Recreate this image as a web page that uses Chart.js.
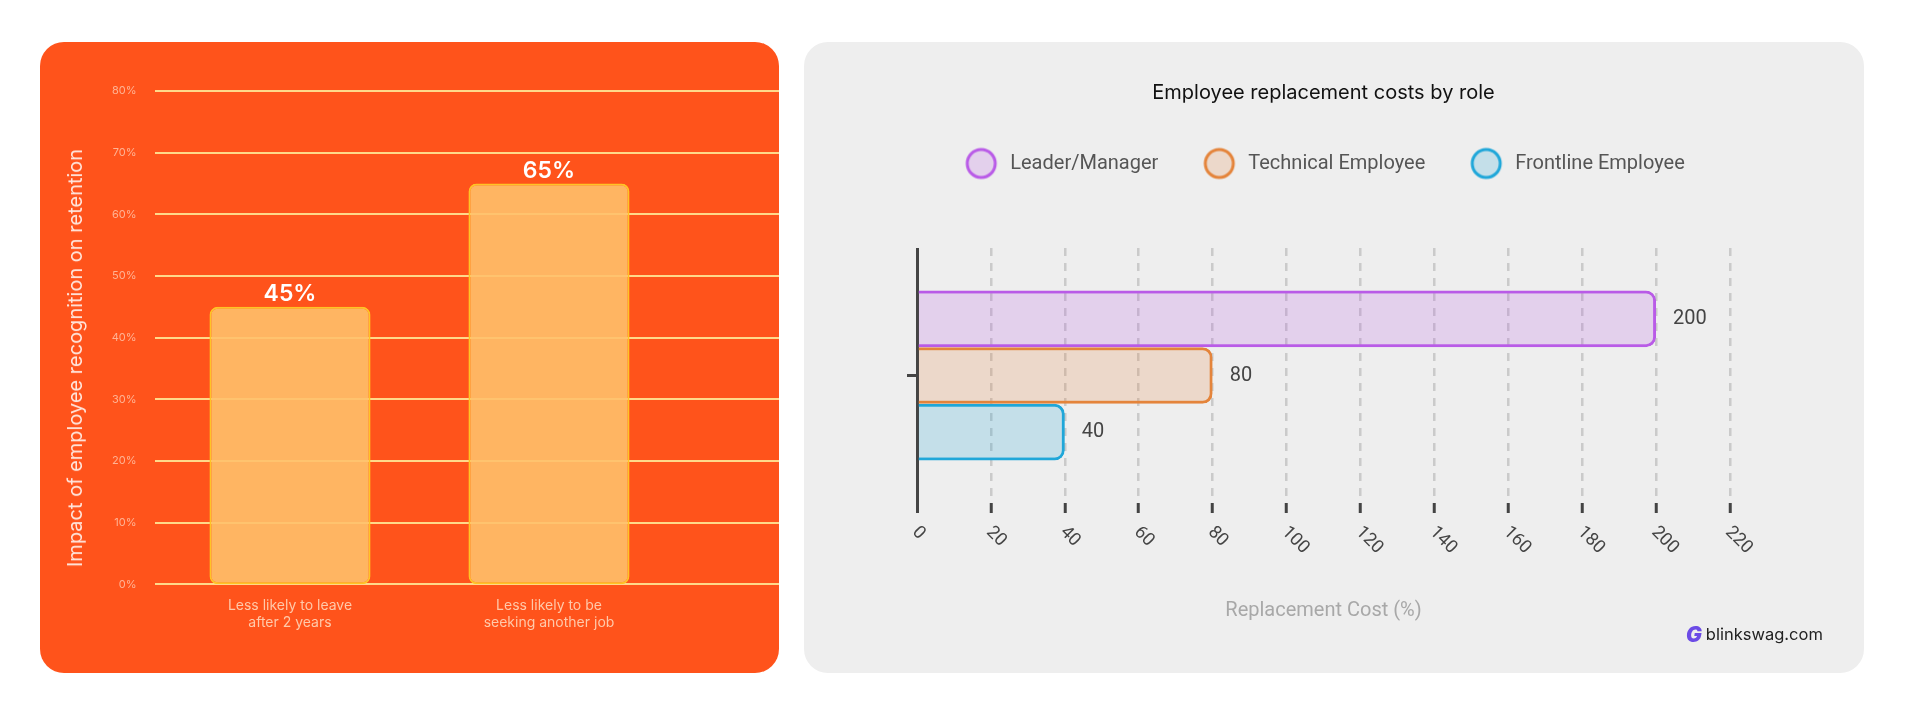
<!DOCTYPE html>
<html>
<head>
<meta charset="utf-8">
<script src="https://cdn.jsdelivr.net/npm/chart.js@4.4.1/dist/chart.umd.min.js"></script>
<style>
  html, body { margin: 0; padding: 0; background: #fff; }
  #page { position: relative; width: 1920px; height: 716px; overflow: hidden; background: #fff; }
  .panel { position: absolute; top: 42px; height: 631px; border-radius: 24px; overflow: hidden; }
  #leftPanel { left: 40px; width: 739px; background: #FF531B; }
  #rightPanel { left: 804px; width: 1060px; background: #EEEEEE; }
  canvas { position: absolute; left: 0; top: 0; }
  #yTitle {
    position: absolute; left: 35px; top: 316px;
    transform: translate(-50%, -50%) rotate(-90deg);
    white-space: nowrap; font-family: Inter, sans-serif; font-size: 20px;
    color: #FFE5DC;
  }
  #brand {
    position: absolute; left: 882px; top: 580px; height: 24px;
    display: flex; align-items: center; gap: 6px;
    font-family: Inter, sans-serif; font-size: 16.5px; color: #222;
  }
  #brand b { color: #6C4BE6; font-style: italic; font-weight: 900; font-size: 21px; letter-spacing: -2px; }
</style>
</head>
<body>
<div id="page">
  <div class="panel" id="leftPanel">
    <canvas id="retentionChart" width="739" height="631"></canvas>
    <div id="yTitle">Impact of employee recognition on retention</div>
  </div>
  <div class="panel" id="rightPanel">
    <canvas id="costChart" width="1060" height="631"></canvas>
    <div id="brand"><b>G</b><span>blinkswag.com</span></div>
  </div>
</div>
<script>
// Datos del gráfico de retención
const retentionLabels = [['Less likely to leave', 'after 2 years'], ['Less likely to be', 'seeking another job']];
const retentionValues = [45, 65];

// Datos del gráfico de costos de reemplazo
const roleNames = ['Leader/Manager', 'Technical Employee', 'Frontline Employee'];
const roleCosts = [200, 80, 40];
const costTicks = [0, 220, 20]; // min, max, paso

const roleBorders = ['#B95BE7', '#E4843B', '#20A7D9'];
const roleFills = ['rgba(185,91,231,0.2)', 'rgba(228,132,59,0.2)', 'rgba(32,167,217,0.2)'];

// Líneas horizontales que llegan hasta el borde del panel
const retentionGrid = {
  id: 'retentionGrid',
  beforeDatasetsDraw(chart) {
    const { ctx, chartArea, scales: { y } } = chart;
    ctx.save();
    ctx.strokeStyle = '#FFD98A';
    ctx.lineWidth = 2;
    y.ticks.forEach(t => {
      const py = Math.round(y.getPixelForValue(t.value));
      ctx.beginPath();
      ctx.moveTo(chartArea.left - 5.5, py);
      ctx.lineTo(chart.width, py);
      ctx.stroke();
    });
    ctx.restore();
  }
};

// Etiquetas de porcentaje encima de cada barra
const retentionLabelsPlugin = {
  id: 'retentionValues',
  afterDatasetsDraw(chart) {
    const ctx = chart.ctx;
    ctx.save();
    ctx.font = '600 23px Inter';
    ctx.fillStyle = '#FFFFFF';
    ctx.textAlign = 'center';
    ctx.textBaseline = 'alphabetic';
    chart.getDatasetMeta(0).data.forEach((bar, i) => {
      ctx.fillText(retentionValues[i] + '%', bar.x, bar.y - 6);
    });
    ctx.restore();
  }
};

new Chart(document.getElementById('retentionChart'), {
  type: 'bar',
  data: {
    labels: retentionLabels,
    datasets: [{
      data: retentionValues,
      backgroundColor: 'rgba(255,192,106,0.9)',
      borderColor: '#FFC326',
      borderWidth: 2,
      borderRadius: 8,
      borderSkipped: false,
      barPercentage: 0.622,
      categoryPercentage: 1
    }]
  },
  options: {
    responsive: false,
    animation: false,
    layout: { padding: { top: 49, right: 100.5, bottom: 28.5, left: 0 } },
    plugins: { legend: { display: false }, tooltip: { enabled: false } },
    scales: {
      x: {
        grid: { display: false, drawTicks: false },
        border: { display: false },
        ticks: { color: '#FFC9AA', font: { family: 'Inter', size: 14, lineHeight: 1.22 }, padding: 13 }
      },
      y: {
        min: 0,
        max: 80,
        grid: { display: false, drawTicks: false },
        border: { display: false },
        ticks: {
          stepSize: 10,
          callback: v => v + '%',
          color: '#FFB394',
          font: { family: 'Inter', size: 11 },
          padding: 24
        },
        afterFit: s => { s.width = 120.5; }
      }
    }
  },
  plugins: [retentionGrid, retentionLabelsPlugin]
});

// Marcadores circulares de la leyenda
const legendMarkers = roleNames.map((n, i) => {
  const c = document.createElement('canvas');
  c.width = 34;
  c.height = 34;
  const g = c.getContext('2d');
  g.beginPath();
  g.arc(17, 17, 14, 0, Math.PI * 2);
  g.fillStyle = roleFills[i];
  g.fill();
  g.lineWidth = 3;
  g.strokeStyle = roleBorders[i];
  g.stroke();
  return c;
});

// Altura fija de la leyenda para dejar espacio debajo
const legendGap = {
  id: 'legendGap',
  beforeInit(chart) {
    const fit = chart.legend.fit;
    chart.legend.fit = function () {
      fit.call(this);
      this.height = 136.5;
    };
  }
};

// Valor al final de cada barra
const costValues = {
  id: 'costValues',
  afterDatasetsDraw(chart) {
    const ctx = chart.ctx;
    ctx.save();
    ctx.font = '20px Roboto';
    ctx.fillStyle = '#444';
    ctx.textAlign = 'left';
    ctx.textBaseline = 'middle';
    chart.data.datasets.forEach((ds, i) => {
      chart.getDatasetMeta(i).data.forEach((bar, j) => {
        ctx.fillText(ds.data[j], bar.x + 17, bar.y);
      });
    });
    ctx.restore();
  }
};

// Etiquetas del eje x giradas hacia abajo
const slantedTicks = {
  id: 'slantedTicks',
  afterDraw(chart) {
    const { ctx, chartArea, scales: { x } } = chart;
    ctx.save();
    ctx.font = '18px Roboto';
    ctx.fillStyle = '#444';
    ctx.textAlign = 'left';
    ctx.textBaseline = 'middle';
    x.ticks.forEach(t => {
      const px = x.getPixelForValue(t.value);
      ctx.save();
      ctx.translate(px - 2, chartArea.bottom + 26.5);
      ctx.rotate(Math.PI / 4);
      ctx.fillText(t.label, 0, 0);
      ctx.restore();
    });
    ctx.restore();
  }
};

const isZero = c => c.tick && c.tick.value === 0;

new Chart(document.getElementById('costChart'), {
  type: 'bar',
  data: {
    labels: [''],
    datasets: roleNames.map((name, i) => ({
      label: name,
      data: [roleCosts[i]],
      backgroundColor: roleFills[i],
      borderColor: roleBorders[i],
      borderWidth: 3,
      borderRadius: 10,
      borderSkipped: 'start',
      categoryPercentage: 0.667,
      barPercentage: 1
    }))
  },
  options: {
    indexAxis: 'y',
    responsive: false,
    animation: false,
    layout: { padding: { left: 113, right: 134, top: 0, bottom: 0 } },
    plugins: {
      title: {
        display: true,
        text: 'Employee replacement costs by role',
        color: '#111',
        font: { family: 'Inter', size: 20, weight: 'normal', lineHeight: 1.2 },
        padding: { top: 39, bottom: 6.5 }
      },
      legend: {
        labels: {
          usePointStyle: true,
          pointStyleWidth: 38,
          color: '#555',
          font: { family: 'Roboto', size: 20 },
          padding: 42,
          generateLabels: chart => Chart.defaults.plugins.legend.labels.generateLabels(chart)
            .map((l, i) => ({ ...l, pointStyle: legendMarkers[i] }))
        }
      },
      tooltip: { enabled: false }
    },
    scales: {
      x: {
        min: costTicks[0],
        max: costTicks[1],
        ticks: { stepSize: costTicks[2], display: false },
        grid: {
          color: c => isZero(c) ? '#444' : 'rgba(195,195,195,0.85)',
          lineWidth: c => isZero(c) ? 3 : 2.5,
          tickColor: '#444',
          tickWidth: 3,
          tickLength: 10
        },
        border: { display: false, dash: c => isZero(c) ? [] : [8, 7] },
        title: {
          display: true,
          text: 'Replacement Cost (%)',
          color: '#A8A8A8',
          font: { family: 'Roboto', size: 20, lineHeight: 1.2 },
          padding: { top: 85.7, bottom: 50.3 }
        }
      },
      y: {
        ticks: { display: false },
        grid: { offset: false, drawOnChartArea: false, tickLength: 10, tickColor: '#444', tickWidth: 3 },
        border: { display: false },
        afterFit: s => { s.width = 0; }
      }
    }
  },
  plugins: [legendGap, costValues, slantedTicks]
});
</script>
</body>
</html>
